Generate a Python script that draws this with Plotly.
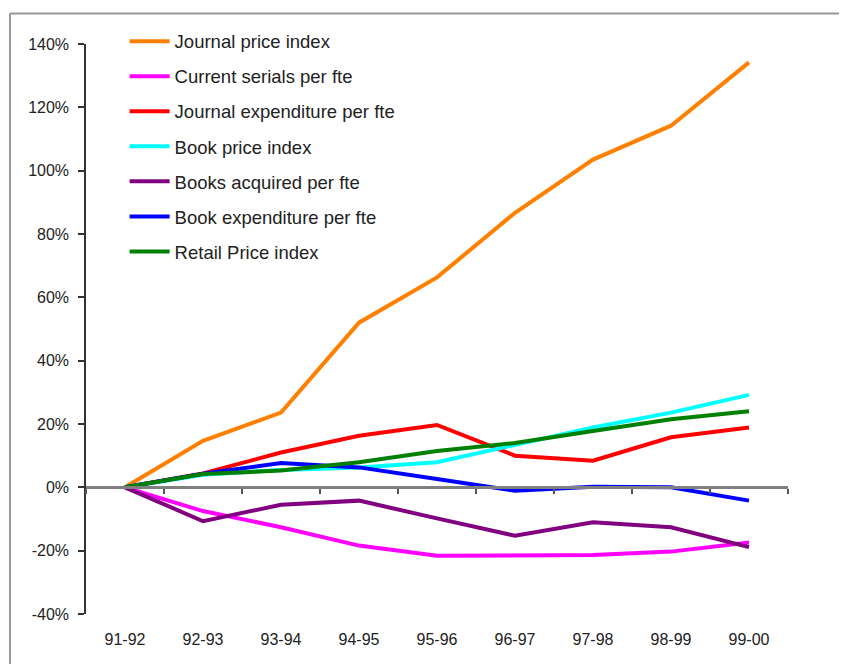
import plotly.graph_objects as go

categories = ["91-92", "92-93", "93-94", "94-95", "95-96", "96-97", "97-98", "98-99", "99-00"]

journal_price_index = [0, 14.7, 23.6, 52.0, 66.3, 86.7, 103.5, 114.2, 134.2]
current_serials_per_fte = [0, -7.5, -12.6, -18.4, -21.6, -21.6, -21.4, -20.3, -17.4]
journal_expenditure_per_fte = [0, 4.4, 11.0, 16.3, 19.7, 10.0, 8.4, 15.8, 18.9]
book_price_index = [0, 4.0, 5.5, 6.3, 7.9, 13.4, 18.9, 23.6, 29.2]
books_acquired_per_fte = [0, -10.7, -5.5, -4.2, -9.8, -15.3, -11.0, -12.6, -18.9]
book_expenditure_per_fte = [0, 4.3, 7.7, 6.3, 2.6, -1.1, 0.2, 0.0, -4.2]
retail_price_index = [0, 4.2, 5.3, 7.9, 11.5, 14.0, 17.8, 21.5, 24.0]

series = [
    ("Journal price index", journal_price_index, "#FF8000"),
    ("Current serials per fte", current_serials_per_fte, "#FF00FF"),
    ("Journal expenditure per fte", journal_expenditure_per_fte, "#FF0000"),
    ("Book price index", book_price_index, "#00FFFF"),
    ("Books acquired per fte", books_acquired_per_fte, "#800080"),
    ("Book expenditure per fte", book_expenditure_per_fte, "#0000FF"),
    ("Retail Price index", retail_price_index, "#008000"),
]

y_ticks = [-40, -20, 0, 20, 40, 60, 80, 100, 120, 140]
y_tick_labels = [f"{v}%" for v in y_ticks]
y_min, y_max = -40, 140

FONT = "Arial, Liberation Sans, sans-serif"
TEXT = "#222222"

fig = go.Figure()
for i, (name, vals, color) in enumerate(series):
    fig.add_trace(go.Scatter(
        x=categories, y=vals, name=name, mode="lines",
        line=dict(color=color, width=4),
        legendgroup=f"g{i}",
    ))

# dummy trace for the bottom label axis
fig.add_trace(go.Scatter(x=categories, y=[None] * len(categories), xaxis="x2",
                         showlegend=False, hoverinfo="skip", mode="lines"))

zero_pos = (0 - y_min) / (y_max - y_min)
border_x = (10 - 86) / 702
border_y = (614 - 13) / 570.5
border_line = dict(color="#999999", width=2)

fig.update_layout(
    width=847, height=664,
    margin=dict(l=78, r=67, t=36, b=58),
    paper_bgcolor="white", plot_bgcolor="white",
    font=dict(family=FONT, size=16, color=TEXT),
    showlegend=True,
    legend=dict(
        x=0.055, y=1.0375, xanchor="left", yanchor="top",
        font=dict(family=FONT, size=18.5, color=TEXT),
        bgcolor="rgba(0,0,0,0)",
        traceorder="grouped", tracegroupgap=8,
        itemwidth=40,
    ),
    xaxis=dict(
        type="category", categoryarray=categories, range=[-0.5, 8.5],
        anchor="free", position=zero_pos,
        showline=True, linecolor="#808080", linewidth=2.5,
        ticks="outside", tickson="boundaries", ticklen=5, tickcolor="#555555", tickwidth=1.5,
        showticklabels=False, showgrid=False, zeroline=False,
    ),
    xaxis2=dict(
        type="category", categoryarray=categories, range=[-0.5, 8.5],
        overlaying="x", anchor="y", side="bottom",
        showline=False, ticks="", showgrid=False, zeroline=False,
        showticklabels=True, ticklabelstandoff=14,
        tickfont=dict(family=FONT, size=16, color=TEXT),
    ),
    yaxis=dict(
        range=[y_min, y_max], tickmode="array", tickvals=y_ticks, ticktext=y_tick_labels,
        showline=True, linecolor="#333333", linewidth=1.5,
        ticks="outside", ticklen=6, tickcolor="#333333", tickwidth=1.5,
        showgrid=False, zeroline=False, ticklabelstandoff=6,
        tickfont=dict(family=FONT, size=16, color=TEXT),
    ),
    shapes=[
        dict(type="line", xref="paper", yref="paper",
             x0=border_x, x1=1.5, y0=border_y, y1=border_y, line=border_line, layer="below"),
        dict(type="line", xref="paper", yref="paper",
             x0=border_x, x1=border_x, y0=-0.5, y1=border_y, line=border_line, layer="below"),
    ],
)

fig.write_html("out.html")
